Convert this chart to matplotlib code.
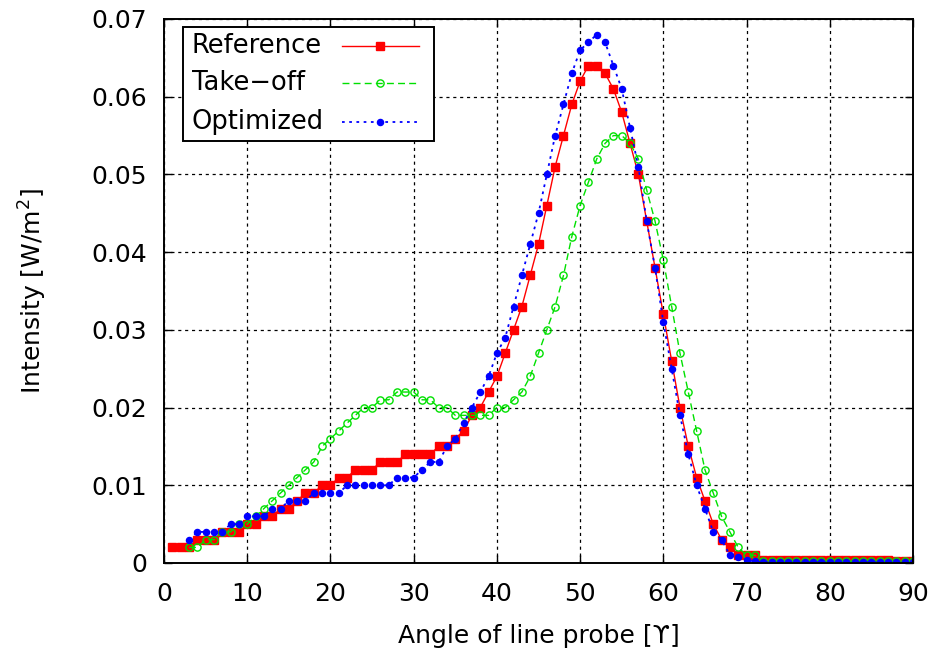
import matplotlib
matplotlib.use("Agg")
import matplotlib.pyplot as plt
import numpy as np
from matplotlib.lines import Line2D
from matplotlib.patches import Rectangle

plt.rcParams["font.family"] = ["DejaVu Sans"]

# angle of line probe (degrees)
angle_ref = np.arange(1, 91)
angle_other = np.arange(3, 91)

intensity_reference = [
    0.002, 0.002, 0.002, 0.003, 0.003, 0.003, 0.004, 0.004, 0.004, 0.005,
    0.005, 0.006, 0.006, 0.007, 0.007, 0.008, 0.009, 0.009, 0.010, 0.010,
    0.011, 0.011, 0.012, 0.012, 0.012, 0.013, 0.013, 0.013, 0.014, 0.014,
    0.014, 0.014, 0.015, 0.015, 0.016, 0.017, 0.019, 0.020, 0.022, 0.024,
    0.027, 0.030, 0.033, 0.037, 0.041, 0.046, 0.051, 0.055, 0.059, 0.062,
    0.064, 0.064, 0.063, 0.061, 0.058, 0.054, 0.050, 0.044, 0.038, 0.032,
    0.026, 0.020, 0.015, 0.011, 0.008, 0.005, 0.003, 0.002, 0.001, 0.001,
    0.001, 0.0004, 0.0004, 0.0004, 0.0004, 0.0004, 0.0004, 0.0004, 0.0004, 0.0004,
    0.0004, 0.0004, 0.0004, 0.0004, 0.0004, 0.0004, 0.0004, 0.0003, 0.0003, 0.0003,
]

intensity_takeoff = [
    0.002, 0.002, 0.003, 0.003, 0.004, 0.004, 0.005, 0.005,
    0.006, 0.007, 0.008, 0.009, 0.010, 0.011, 0.012, 0.013, 0.015, 0.016,
    0.017, 0.018, 0.019, 0.020, 0.020, 0.021, 0.021, 0.022, 0.022, 0.022,
    0.021, 0.021, 0.020, 0.020, 0.019, 0.019, 0.019, 0.019, 0.019, 0.020,
    0.020, 0.021, 0.022, 0.024, 0.027, 0.030, 0.033, 0.037, 0.042, 0.046,
    0.049, 0.052, 0.054, 0.055, 0.055, 0.054, 0.052, 0.048, 0.044, 0.039,
    0.033, 0.027, 0.022, 0.017, 0.012, 0.009, 0.006, 0.004, 0.002, 0.001,
    0.001, 0.0002, 0.0002, 0.0002, 0.0002, 0.0002, 0.0002, 0.0002, 0.0002, 0.0002,
    0.0002, 0.0002, 0.0002, 0.0002, 0.0002, 0.0002, 0.0002, 0.0002, 0.0002, 0.0002,
]

intensity_optimized = [
    0.003, 0.004, 0.004, 0.004, 0.004, 0.005, 0.005, 0.006,
    0.006, 0.006, 0.007, 0.007, 0.008, 0.008, 0.008, 0.009, 0.009, 0.009,
    0.009, 0.010, 0.010, 0.010, 0.010, 0.010, 0.010, 0.011, 0.011, 0.011,
    0.012, 0.013, 0.013, 0.015, 0.016, 0.018, 0.020, 0.022, 0.024, 0.027,
    0.029, 0.033, 0.037, 0.041, 0.045, 0.050, 0.055, 0.059, 0.063, 0.066,
    0.067, 0.068, 0.067, 0.064, 0.061, 0.056, 0.051, 0.044, 0.038, 0.031,
    0.025, 0.019, 0.014, 0.010, 0.007, 0.004, 0.003, 0.001, 0.0008, 0.0004,
    0.0002, 0.0001, 0.0001, 0.0001, 0.0001, 0.0001, 0.0001, 0.0001, 0.0001, 0.0001,
    0.0001, 0.0001, 0.0001, 0.0001, 0.0001, 0.0001, 0.0001, 0.0001, 0.0001, 0.0001,
]

labels = ["Reference", "Take\u2212off", "Optimized"]
x_ticks = [0, 10, 20, 30, 40, 50, 60, 70, 80, 90]
y_ticks = [0, 0.01, 0.02, 0.03, 0.04, 0.05, 0.06, 0.07]
y_ticklabels = ["0", "0.01", "0.02", "0.03", "0.04", "0.05", "0.06", "0.07"]

styles = [
    dict(color="#ff0000", ls="-", lw=1.0, marker="s", ms=5.2, mec="#ff0000"),
    dict(color="#00e000", ls=(0, (5, 3)), lw=1.0, marker="o", ms=5.2, mfc="none", mew=1.0),
    dict(color="#0000ff", ls=(0, (1.5, 2.5)), lw=1.3, marker="o", ms=4.4),
]

fig = plt.figure(figsize=(9.34, 6.54), dpi=100)
ax = fig.add_axes([164 / 934, 91 / 654, 749 / 934, 544 / 654])

series = [
    (angle_ref, intensity_reference),
    (angle_other, intensity_takeoff),
    (angle_other, intensity_optimized),
]
for (x, y), st in zip(series, styles):
    ax.plot(x, y, **st)

ax.set_xlim(0, 90)
ax.set_ylim(0, 0.07)
ax.set_xticks(x_ticks)
ax.set_yticks(y_ticks)
ax.set_yticklabels(y_ticklabels)
ax.tick_params(direction="in", top=True, right=True, length=6, width=1,
               labelsize=18)
ax.tick_params(axis="x", pad=14)
ax.tick_params(axis="y", pad=12)
ax.grid(True, color="black", lw=0.9, ls=(0, (2.5, 3)))
for sp in ax.spines.values():
    sp.set_linewidth(1.4)

ax.set_xlabel("Angle of line probe [\u03d2]", fontsize=18)
ax.set_ylabel("Intensity [W/m$^2$]", fontsize=18)
ax.xaxis.set_label_coords(0.5, -0.112)
ax.yaxis.set_label_coords(-0.153, 0.5)

# legend drawn in axes coordinates, text left, samples right
ax.add_patch(Rectangle((0.025, 0.776), 0.336, 0.21, transform=ax.transAxes,
                       fc="white", ec="black", lw=1.4, zorder=5))
row_y = [0.951, 0.882, 0.810]
for lab, st, yy in zip(labels, styles, row_y):
    ax.text(0.037, yy, lab, transform=ax.transAxes, fontsize=18.5,
            va="center", ha="left", zorder=6)
    ax.add_line(Line2D([0.237, 0.289, 0.341], [yy, yy, yy], transform=ax.transAxes,
                       markevery=[1], zorder=6, **st))

plt.savefig("out.png", dpi=100)
